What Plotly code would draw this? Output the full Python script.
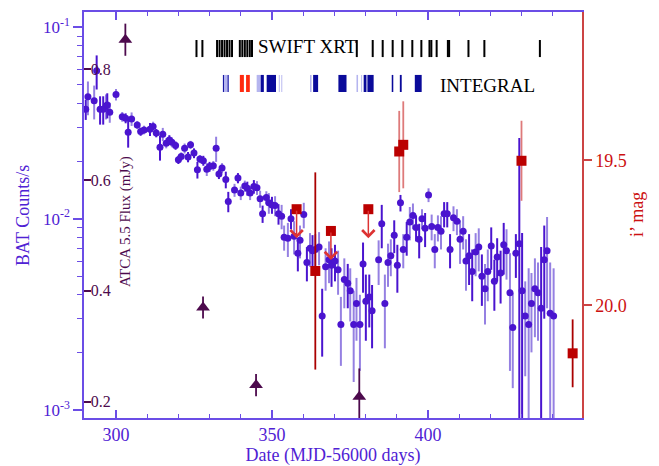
import plotly.graph_objects as go

# ---------------- data ----------------
bat_date = [290.3, 291.0, 293.0, 293.8, 294.9, 295.9, 296.8, 297.2, 298.0, 300.0,
            302.0, 303.1, 303.9, 305.0, 306.8, 307.9, 309.0, 310.9, 311.9, 312.9,
            314.1, 315.0, 316.1, 317.1, 317.9, 319.1, 320.0, 320.9, 322.0, 323.1,
            323.9, 325.0, 326.1, 326.9, 328.0, 329.1, 330.0, 331.2, 332.1, 333.0,
            334.0, 335.2, 336.0, 338.0, 339.1, 340.0, 341.3, 342.1, 343.0, 344.2,
            345.2, 346.2, 347.0, 348.2, 349.0, 350.0, 351.0, 352.1, 353.1, 353.9,
            355.1, 356.1, 357.1, 358.3, 359.0, 360.2, 361.2, 362.2, 363.0, 363.9,
            365.1, 366.1, 367.2, 368.3, 369.1, 370.2, 371.2, 372.1, 373.2, 374.3,
            375.1, 376.2, 377.1, 378.2, 379.2, 380.1, 381.2, 382.1, 384.2, 385.2,
            386.2, 387.2, 388.1, 389.2, 390.2, 391.2, 392.1, 393.2, 394.2, 395.2,
            396.2, 397.2, 398.1, 399.1, 400.2, 401.2, 402.2, 403.2, 404.2, 405.2,
            406.2, 407.1, 408.2, 409.3, 410.3, 411.3, 412.2, 413.2, 414.2, 415.3,
            416.3, 417.3, 418.3, 419.2, 420.3, 421.3, 422.2, 423.3, 424.3, 425.2,
            426.3, 427.2, 428.2, 429.3, 430.2, 431.2, 432.3, 433.2, 434.3, 435.3,
            436.3, 437.3, 438.2, 439.2, 440.3]
bat_rate = [0.0373, 0.0434, 0.0413, 0.0593, 0.0373, 0.0373, 0.0388, 0.0393, 0.0360, 0.0445,
            0.0341, 0.0335, 0.0283, 0.0332, 0.0309, 0.0285, 0.0291, 0.0293, 0.0303, 0.0280,
            0.0236, 0.0276, 0.0248, 0.0258, 0.0251, 0.0241, 0.0203, 0.0211, 0.0233, 0.0210,
            0.0243, 0.0220, 0.0180, 0.0205, 0.0201, 0.0181, 0.0187, 0.0189, 0.0233, 0.0171,
            0.0184, 0.0160, 0.0123, 0.0141, 0.0163, 0.0136, 0.0148, 0.0144, 0.0136, 0.0147,
            0.0145, 0.0127, 0.0106, 0.0129, 0.0121, 0.0118, 0.0117, 0.0106, 0.0103, 0.0080,
            0.0079, 0.0100, 0.0081, 0.0066, 0.0077, 0.0105, 0.0059, 0.0070, 0.0068, 0.0069,
            0.0071, 0.0031, 0.0056, 0.0061, 0.0057, 0.0060, 0.0054, 0.0028, 0.0048, 0.0046,
            0.0042, 0.0028, 0.0036, 0.0028, 0.0058, 0.0037, 0.0039, 0.0033, 0.0061, 0.0094,
            0.0036, 0.0059, 0.0064, 0.0082, 0.0057, 0.0121, 0.0069, 0.0080, 0.0096, 0.0104,
            0.0090, 0.0078, 0.0100, 0.0089, 0.0133, 0.0091, 0.0069, 0.0090, 0.0086, 0.0106,
            0.0106, 0.0069, 0.0101, 0.0097, 0.0078, 0.0086, 0.0060, 0.0064, 0.0053, 0.0067,
            0.0071, 0.0050, 0.0043, 0.0053, 0.0072, 0.0047, 0.0063, 0.0052, 0.0073, 0.0068,
            0.0041, 0.0027, 0.0066, 0.0074, 0.0042, 0.0031, 0.0028, 0.0036, 0.0043, 0.0041,
            0.0034, 0.0061, 0.0068, 0.0032, 0.0031]
bat_err = [0.0045, 0.0087, 0.0083, 0.0120, 0.0063, 0.0063, 0.0058, 0.0059, 0.0043, 0.0031,
           0.0020, 0.0020, 0.0048, 0.0027, 0.0015, 0.0014, 0.0015, 0.0023, 0.0018, 0.0014,
           0.0035, 0.0022, 0.0015, 0.0015, 0.0015, 0.0012, 0.0010, 0.0011, 0.0014, 0.0013,
           0.0012, 0.0013, 0.0018, 0.0010, 0.0012, 0.0014, 0.0011, 0.0011, 0.0035, 0.0010,
           0.0011, 0.0016, 0.0015, 0.0011, 0.0010, 0.0011, 0.0010, 0.0012, 0.0011, 0.0012,
           0.0012, 0.0013, 0.0011, 0.0010, 0.0015, 0.0012, 0.0014, 0.0013, 0.0015, 0.0012,
           0.0016, 0.0012, 0.0016, 0.0013, 0.0015, 0.0016, 0.0012, 0.0014, 0.0014, 0.0014,
           0.0014, 0.0012, 0.0014, 0.0015, 0.0013, 0.0013, 0.0014, 0.0011, 0.0014, 0.0012,
           0.0013, 0.0014, 0.0013, 0.0012, 0.0017, 0.0014, 0.0012, 0.0012, 0.0016, 0.0024,
           0.0015, 0.0015, 0.0014, 0.0016, 0.0016, 0.0012, 0.0014, 0.0016, 0.0019, 0.0016,
           0.0014, 0.0016, 0.0012, 0.0018, 0.0011, 0.0014, 0.0014, 0.0014, 0.0017, 0.0016,
           0.0016, 0.0014, 0.0015, 0.0015, 0.0020, 0.0017, 0.0018, 0.0019, 0.0016, 0.0017,
           0.0018, 0.0015, 0.0015, 0.0016, 0.0018, 0.0014, 0.0016, 0.0016, 0.0022, 0.0020,
           0.0025, 0.0014, 0.0017, 0.0190, 0.0042, 0.0016, 0.0027, 0.0016, 0.0019, 0.0018,
           0.0037, 0.0031, 0.0034, 0.0027, 0.0024]
# 1 = dark error bar, 0 = light error bar
bat_dark = [1, 0, 0, 1, 1, 1, 0, 1, 0, 0, 0, 1, 1, 0, 0, 1, 0, 1, 0, 1,
            1, 0, 0, 1, 0, 1, 1, 0, 0, 1, 0, 1, 1, 0, 1, 0, 1, 0, 0, 1,
            0, 1, 1, 0, 1, 0, 0, 1, 0, 1, 0, 0, 1, 0, 0, 1, 0, 1, 0, 0,
            0, 1, 0, 1, 0, 0, 1, 0, 1, 0, 0, 1, 0, 0, 1, 1, 0, 0, 0, 1,
            0, 0, 0, 0, 1, 1, 1, 1, 0, 1, 0, 0, 0, 1, 1, 1, 0, 1, 0, 0,
            1, 1, 0, 1, 0, 0, 0, 0, 0, 1, 1, 1, 0, 0, 0, 0, 0, 1, 1, 0,
            0, 1, 0, 0, 1, 1, 1, 1, 1, 0, 0, 0, 1, 1, 1, 0, 0, 0, 0, 0,
            1, 1, 0, 0, 0]

opt_date = [363.9, 390.8, 392.1, 430.0, 446.4]
opt_mag = [19.882, 19.470, 19.447, 19.502, 20.166]
opt_err = [0.34, 0.14, 0.15, 0.138, 0.117]
opt_err_dark = [1, 0, 0, 0, 1]
ul_date = [357.9, 368.9, 380.9]
ul_mag = [19.669, 19.744, 19.669]
ul_arrow = 0.10

atca_date = [303.0, 327.9, 344.9, 378.0]
atca_flux = [0.853, 0.370, 0.230, 0.209]
atca_err = [0.029, 0.020, 0.020, 0.051]

xrt_dates = [325.8, 327.7, 332.4, 333.2, 334.0, 334.8, 335.6, 336.4, 337.2,
             339.7, 340.5, 341.3, 342.1, 342.9, 343.6, 377.2, 382.3, 385.5,
             388.7, 391.8, 395.0, 397.9, 400.5, 401.1, 402.8, 406.4, 406.8,
             413.0, 418.1, 435.9]
integral_light = [(334.2, 336.2), (345.1, 346.4), (352.2, 352.5), (353.0, 353.3),
                  (362.2, 362.7), (377.1, 377.6), (378.6, 378.9)]
integral_dark = [(334.3, 334.6), (335.8, 336.1), (346.4, 347.4), (348.3, 351.3),
                 (363.2, 364.8), (371.3, 373.9), (379.4, 380.3), (380.6, 382.6),
                 (388.4, 388.9), (391.0, 391.6), (395.8, 398.0)]
integral_red = [(339.7, 341.0), (341.7, 342.9)]

bat_tickvals = [0.001, 0.01, 0.1]
bat_ticktext = ["10<sup>-3</sup>", "10<sup>-2</sup>", "10<sup>-1</sup>"]
bat_minor = [0.002, 0.003, 0.004, 0.005, 0.006, 0.007, 0.008, 0.009,
             0.02, 0.03, 0.04, 0.05, 0.06, 0.07, 0.08, 0.09]
mag_ticks = [19.5, 20.0]
mag_ticktext = ["19.5", "20.0"]
atca_ticks = [0.2, 0.4, 0.6, 0.8]

# ---------------- style ----------------
FONT = "Liberation Serif"
BAT_C = "#4a14cf"
BAT_LIGHT = "#9580e2"
AX_BLUE = "#6b4de6"
TXT_BLUE = "#4f22d4"
RED_SQ = "#bb0000"
RED_DARK = "#aa0000"
RED_LIGHT = "#de7a7a"
RED_AX = "#cc4444"
RED_TXT = "#cc1111"
ATCA_C = "#4d0a4d"

fig = go.Figure()

for flag, col in [(0, BAT_LIGHT), (1, BAT_C)]:
    xs = [d for d, f in zip(bat_date, bat_dark) if f == flag]
    ys = [r for r, f in zip(bat_rate, bat_dark) if f == flag]
    es = [e for e, f in zip(bat_err, bat_dark) if f == flag]
    fig.add_trace(go.Scatter(
        x=xs, y=ys, mode="markers",
        marker=dict(size=7, color=BAT_C),
        error_y=dict(type="data", array=es, color=col, thickness=2, width=0),
        yaxis="y", showlegend=False))

for flag, col in [(0, RED_LIGHT), (1, RED_DARK)]:
    xs = [d for d, f in zip(opt_date, opt_err_dark) if f == flag]
    ys = [m for m, f in zip(opt_mag, opt_err_dark) if f == flag]
    es = [e for e, f in zip(opt_err, opt_err_dark) if f == flag]
    fig.add_trace(go.Scatter(
        x=xs, y=ys, mode="markers",
        marker=dict(size=10, color=RED_SQ, symbol="square"),
        error_y=dict(type="data", array=es, color=col, thickness=1.8, width=0),
        yaxis="y2", showlegend=False))

fig.add_trace(go.Scatter(
    x=ul_date, y=ul_mag, mode="markers",
    marker=dict(size=10, color=RED_SQ, symbol="square"),
    yaxis="y2", showlegend=False))

fig.add_trace(go.Scatter(
    x=atca_date, y=atca_flux, mode="markers",
    marker=dict(size=12, color=ATCA_C, symbol="triangle-up"),
    error_y=dict(type="data", array=atca_err, color=ATCA_C, thickness=1.8, width=0),
    yaxis="y3", showlegend=False))

shapes = []
for d in xrt_dates:
    shapes.append(dict(type="line", xref="x", yref="paper", x0=d, x1=d,
                       y0=0.889, y1=0.931, line=dict(color="black", width=2)))
for a, b in integral_light:
    shapes.append(dict(type="rect", xref="x", yref="paper", x0=a, x1=b,
                       y0=0.803, y1=0.845, line=dict(width=0),
                       fillcolor="rgba(90,90,220,0.45)"))
for a, b in integral_dark:
    shapes.append(dict(type="rect", xref="x", yref="paper", x0=a, x1=b,
                       y0=0.803, y1=0.845, line=dict(width=0), fillcolor="#0a0a9a"))
for a, b in integral_red:
    shapes.append(dict(type="rect", xref="x", yref="paper", x0=a, x1=b,
                       y0=0.803, y1=0.845, line=dict(width=0), fillcolor="#ff2a10"))

annotations = []
for d, m in zip(ul_date, ul_mag):
    annotations.append(dict(x=d, y=m + ul_arrow, xref="x", yref="y2",
                            ax=d, ay=m, axref="x", ayref="y2", text="",
                            showarrow=True, arrowhead=4, arrowsize=1.6,
                            arrowwidth=1.5, arrowcolor="#dd3333", standoff=0))
annotations.append(dict(x=344.9, y=0.914, xref="x", yref="paper", text="SWIFT XRT",
                        showarrow=False, xanchor="left", yanchor="middle",
                        font=dict(family=FONT, size=19, color="black")))
annotations.append(dict(x=403.2, y=0.820, xref="x", yref="paper", text="INTEGRAL",
                        showarrow=False, xanchor="left", yanchor="middle",
                        font=dict(family=FONT, size=19, color="black")))
# axis titles placed as annotations (paper coordinates of the plot area)
annotations.append(dict(x=0.0823, y=0.485, xref="paper", yref="paper",
                        xanchor="center", yanchor="middle",
                        text="ATCA 5.5 Flux (mJy)", showarrow=False, textangle=-90,
                        font=dict(family=FONT, size=15, color=ATCA_C)))
annotations.append(dict(x=-0.1225, y=0.500, xref="paper", yref="paper",
                        xanchor="center", yanchor="middle",
                        text="BAT Counts/s", showarrow=False, textangle=-90,
                        font=dict(family=FONT, size=18, color=TXT_BLUE)))
annotations.append(dict(x=1.110, y=0.502, xref="paper", yref="paper",
                        xanchor="center", yanchor="middle",
                        text="i’ mag", showarrow=False, textangle=-90,
                        font=dict(family=FONT, size=18, color=RED_TXT)))

# the page body adds an 8 px offset, so the figure is sized/margined to compensate
fig.update_layout(
    width=651, height=458,
    margin=dict(l=76, r=77, t=4, b=48),
    paper_bgcolor="white", plot_bgcolor="white",
    font=dict(family=FONT),
    shapes=shapes,
    xaxis=dict(range=[289.74, 449.4], showgrid=False, zeroline=False, automargin=False,
               showline=True, linecolor=AX_BLUE, linewidth=1.5, mirror="ticks",
               ticks="inside", ticklen=8, tickwidth=1.5, tickcolor=AX_BLUE,
               tick0=0, dtick=50,
               minor=dict(ticks="inside", ticklen=4, tickwidth=1.2, tickcolor=AX_BLUE,
                          dtick=10, tick0=0),
               tickfont=dict(family=FONT, size=18, color=TXT_BLUE),
               title=dict(text="Date (MJD-56000 days)", standoff=2,
                          font=dict(family=FONT, size=18, color=TXT_BLUE))),
    yaxis=dict(type="log", range=[-3.042, -0.92], showgrid=False, zeroline=False,
               automargin=False,
               showline=True, linecolor=AX_BLUE, linewidth=1.5,
               ticks="outside", ticklen=9, tickwidth=1.5, tickcolor=AX_BLUE,
               tickmode="array", tickvals=bat_tickvals, ticktext=bat_ticktext,
               minor=dict(ticks="outside", ticklen=5, tickwidth=1.2, tickcolor=AX_BLUE,
                          tickmode="array", tickvals=bat_minor),
               tickfont=dict(family=FONT, size=17, color=TXT_BLUE)),
    yaxis2=dict(overlaying="y", side="right", anchor="x", automargin=False,
                range=[20.389, 18.989], showgrid=False, zeroline=False,
                showline=True, linecolor=RED_AX, linewidth=1.5,
                ticks="outside", ticklen=8, tickwidth=1.5, tickcolor=RED_AX,
                tickmode="array", tickvals=mag_ticks, ticktext=mag_ticktext,
                tickfont=dict(family=FONT, size=18, color=RED_TXT)),
    yaxis3=dict(overlaying="y", side="left", anchor="x", automargin=False,
                range=[0.1706, 0.903], showgrid=False, zeroline=False,
                showline=False, ticks="inside", ticklen=7, tickwidth=1.5,
                tickcolor=ATCA_C, tickmode="array", tickvals=atca_ticks,
                ticklabelposition="inside",
                tickfont=dict(family=FONT, size=16, color=ATCA_C)),
    annotations=annotations,
)

fig.write_html("out.html")
